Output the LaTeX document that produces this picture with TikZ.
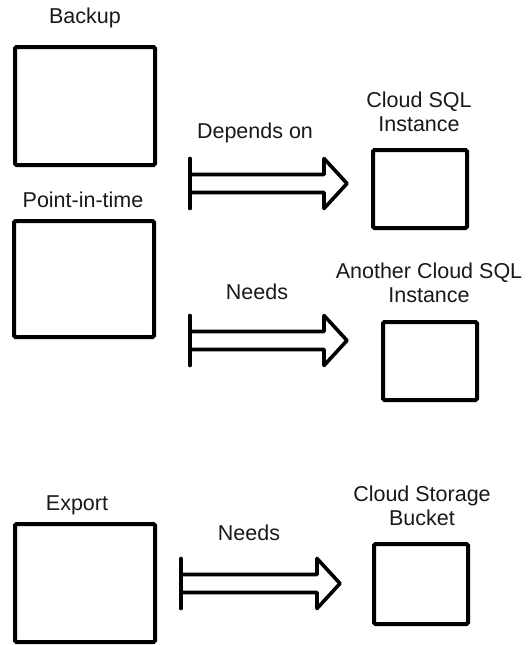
\documentclass[tikz,border=0pt]{standalone}
\usepackage{fontspec}
\setmainfont{Liberation Sans}
\usetikzlibrary{calc}
\tikzset{
  blk/.style={draw=black, line width=4pt, rectangle, rounded corners=1.5pt, inner sep=0pt, fill=white},
  lbl/.style={font=\fontsize{21.5}{23.5}\selectfont, align=center, inner sep=0pt, text=black!90},
  arr/.style={draw=black, line width=3.6pt, line join=round, line cap=round}
}
\newcommand\fatarrow[2]{%
  \draw[arr] ($(#1)+(0,-25)$) -- ($(#1)+(0,25)$);
  \draw[arr] ($(#1)+(0,-9)$) -- ($(#2)+(-23,-9)$) -- ($(#2)+(-23,-25)$) -- (#2)
     -- ($(#2)+(-23,25)$) -- ($(#2)+(-23,9)$) -- ($(#1)+(0,9)$);
}
\begin{document}
\begin{tikzpicture}[x=1pt,y=-1pt]
\useasboundingbox[fill=white] (0,0) rectangle (528,645);
% boxes
\node[blk, minimum width=140pt, minimum height=118pt] (backup) at (85,106) {};
\node[blk, minimum width=140pt, minimum height=116pt] (pit) at (84,279) {};
\node[blk, minimum width=140pt, minimum height=118pt] (export) at (85,583) {};
\node[blk, minimum width=94pt, minimum height=78pt] (sql) at (420,189) {};
\node[blk, minimum width=94pt, minimum height=78pt] (sql2) at (430,361) {};
\node[blk, minimum width=94pt, minimum height=80pt] (bucket) at (421,584) {};
% labels
\node[lbl] (lbackup) at (85,18) {Backup};
\node[lbl] (lpit) at (83,200) {Point-in-time};
\node[lbl] (lexport) at (77,505) {Export};
\node[lbl] (lsql) at (419,112) {Cloud SQL\\Instance};
\node[lbl] (lsql2) at (429,283) {Another Cloud SQL\\Instance};
\node[lbl] (lbucket) at (422,506) {Cloud Storage\\Bucket};
\node[lbl] (ldep) at (255,133) {Depends on};
\node[lbl] (lneed1) at (257,292) {Needs};
\node[lbl] (lneed2) at (249,533) {Needs};
% arrows
\coordinate (a1s) at (190,183.5);
\coordinate (a1e) at (347,183.5);
\coordinate (a2s) at (190,340.5);
\coordinate (a2e) at (347,340.5);
\coordinate (a3s) at (181,583.5);
\coordinate (a3e) at (340,583.5);
\fatarrow{a1s}{a1e}
\fatarrow{a2s}{a2e}
\fatarrow{a3s}{a3e}
\end{tikzpicture}
\end{document}
